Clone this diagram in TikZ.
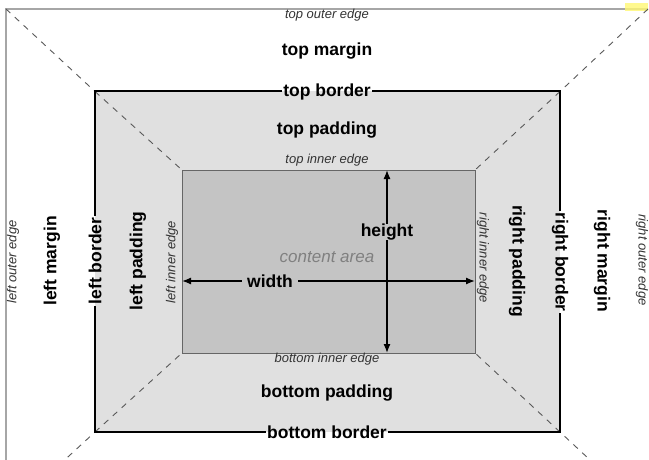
\documentclass[tikz,border=0pt]{standalone}
\usepackage{fontspec}
\setmainfont{Liberation Sans}
\usetikzlibrary{arrows.meta}
\begin{document}
\begin{tikzpicture}[x=1pt,y=-1pt,
  big/.style={font=\fontsize{17.5}{20}\selectfont\bfseries, inner sep=1.5pt},
  small/.style={font=\fontsize{13}{15}\selectfont\itshape, text=black!80, inner sep=1pt},
  dashline/.style={draw=black!65, line width=0.9pt, dash pattern=on 6pt off 6pt},
  bordline/.style={draw=black, line width=2pt},
  outerline/.style={draw=black!35, line width=1.8pt},
  arr/.style={draw=black, line width=1.3pt, -{Latex[length=9pt,width=7pt]}},
]
\useasboundingbox (0,0) rectangle (649,460);
\clip (0,0) rectangle (649,460);
\fill[white] (0,0) rectangle (649,460);
% corners
\coordinate (otl) at (6,9);
\coordinate (otr) at (648,9);
\coordinate (obl) at (6,514);
\coordinate (obr) at (648,514);
\coordinate (btl) at (95,91.5);
\coordinate (btr) at (560,91.5);
\coordinate (bbl) at (95,432);
\coordinate (bbr) at (560,432);
\coordinate (ctl) at (182,170);
\coordinate (ctr) at (475,170);
\coordinate (cbl) at (182,353);
\coordinate (cbr) at (475,353);
% areas
\fill[black!12] (btl) rectangle (bbr);
\draw[fill=black!23, draw=black!60, line width=0.9pt] (ctl) rectangle (cbr);
% outer edge
\draw[outerline] (otr) -- (otl) -- (obl);
\fill[yellow!55, opacity=0.8] (625,3) rectangle (648,11);
% diagonals
\draw[dashline] (otl) -- (btl);
\draw[dashline] (btl) -- (ctl);
\draw[dashline] (otr) -- (btr);
\draw[dashline] (btr) -- (ctr);
\draw[dashline] (obl) -- (bbl);
\draw[dashline] (bbl) -- (cbl);
\draw[dashline] (obr) -- (bbr);
\draw[dashline] (bbr) -- (cbr);
% horizontal labels
\node[small] (toe) at (327,15) {top outer edge};
\node[big] (tm) at (327,51.5) {top margin};
\node[big] (tb) at (327,91.5) {top border};
\node[big] (tp) at (327,130.5) {top padding};
\node[small] (tie) at (327,160.5) {top inner edge};
\node[small] (bie) at (327,359) {bottom inner edge};
\node[big] (bp) at (327,393) {bottom padding};
\node[big] (bb) at (327,432) {bottom border};
% vertical labels
\node[small, rotate=90] (loe) at (13,262) {left outer edge};
\node[big, rotate=90] (lm) at (52,261) {left margin};
\node[big, rotate=90] (lb) at (95,261) {left border};
\node[big, rotate=90] (lp) at (138,261) {left padding};
\node[small, rotate=90] (lie) at (172,262) {left inner edge};
\node[small, rotate=-90] (rie) at (483,258) {right inner edge};
\node[big, rotate=-90] (rp) at (517,261) {right padding};
\node[big, rotate=-90] (rb) at (560,262) {right border};
\node[big, rotate=-90] (rm) at (602,261) {right margin};
\node[small, rotate=-90] (roe) at (642,260) {right outer edge};
% border lines
\draw[bordline] (tb.east) -- (btr) -- (rb.west);
\draw[bordline] (rb.east) -- (bbr) -- (bb.east);
\draw[bordline] (bb.west) -- (bbl) -- (lb.west);
\draw[bordline] (lb.east) -- (btl) -- (tb.west);
% content
\node[font=\fontsize{17}{20}\selectfont\itshape, text=black!50] (ca) at (327,257) {content area};
\node[big, inner sep=5pt] (wl) at (270,281) {width};
\node[big, inner sep=0pt] (hl) at (387,232) {height};
\draw[arr] (wl.west) -- (wl.west -| ctl);
\draw[arr] (wl.east) -- (wl.east -| ctr);
\draw[arr] (hl.north) -- (hl.north |- ctl);
\draw[arr] (hl.south) -- (hl.south |- cbl);
\end{tikzpicture}
\end{document}
